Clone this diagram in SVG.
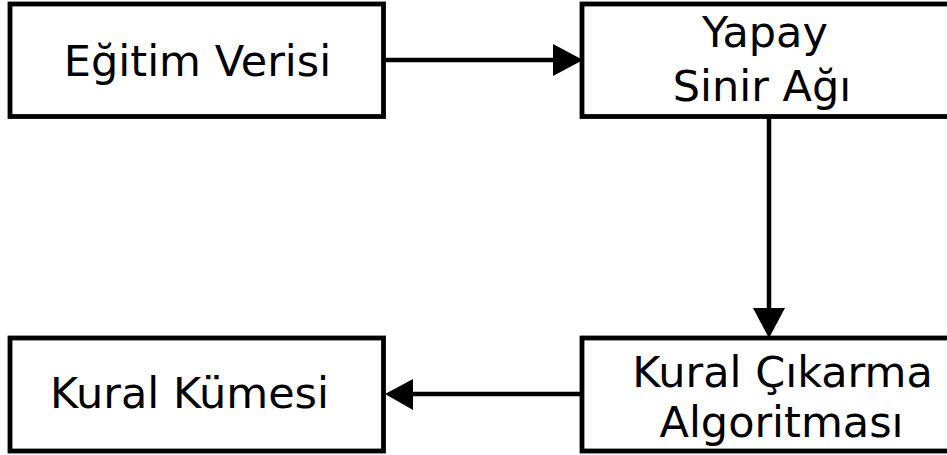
<svg xmlns="http://www.w3.org/2000/svg" width="947" height="455" viewBox="0 0 947 455">
  <style>
    .box { fill: #ffffff; stroke: #000000; stroke-width: 4.8; }
    .lbl { font-family: "DejaVu Sans", sans-serif; font-size: 43px; fill: #000000; text-anchor: middle; }
    .edge { stroke: #000000; stroke-width: 4.5; fill: none; }
    .head { fill: #000000; stroke: none; }
  </style>
  <rect width="947" height="455" fill="#ffffff"/>

  <g id="egitim-verisi">
    <rect class="box" x="10" y="4" width="373.5" height="112.5"/>
    <text class="lbl" x="197.5" y="76">Eğitim Verisi</text>
  </g>

  <g id="yapay-sinir-agi">
    <rect class="box" x="582" y="4" width="380" height="112.5"/>
    <text class="lbl" x="765" y="47">Yapay</text>
    <text class="lbl" x="762" y="101">Sinir Ağı</text>
  </g>

  <g id="kural-cikarma">
    <rect class="box" x="582" y="338" width="380" height="113"/>
    <text class="lbl" x="782.5" y="387">Kural Çıkarma</text>
    <text class="lbl" x="781.5" y="437">Algoritması</text>
  </g>

  <g id="kural-kumesi">
    <rect class="box" x="10" y="338" width="373.5" height="113"/>
    <text class="lbl" x="189.5" y="408">Kural Kümesi</text>
  </g>

  <g id="connectors">
    <line class="edge" x1="385" y1="60" x2="555" y2="60"/>
    <polygon class="head" points="553,44 583,60 553,76"/>
    <line class="edge" x1="769" y1="118" x2="769" y2="310"/>
    <polygon class="head" points="753,308 785,308 769,338"/>
    <line class="edge" x1="580" y1="394" x2="410" y2="394"/>
    <polygon class="head" points="413,379 413,410 385,394"/>
  </g>
</svg>
